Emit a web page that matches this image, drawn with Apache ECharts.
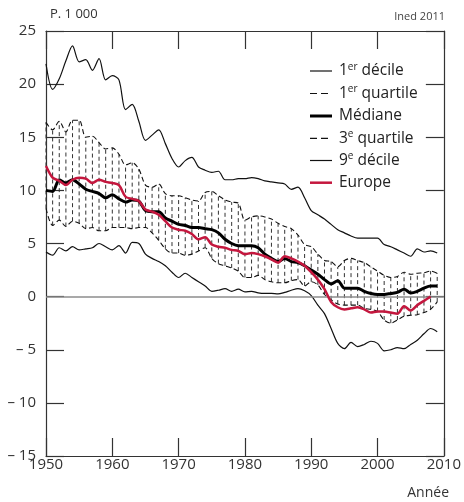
<!DOCTYPE html>
<html>
<head>
<meta charset="utf-8">
<script src="https://cdn.jsdelivr.net/npm/echarts@6/dist/echarts.min.js"></script>
<style>
html,body{margin:0;padding:0;background:#fff;}
#chart{width:464px;height:502px;}
</style>
</head>
<body>
<div id="chart"></div>
<script>
const years = [1950,1951,1952,1953,1954,1955,1956,1957,1958,1959,
               1960,1961,1962,1963,1964,1965,1966,1967,1968,1969,
               1970,1971,1972,1973,1974,1975,1976,1977,1978,1979,
               1980,1981,1982,1983,1984,1985,1986,1987,1988,1989,
               1990,1991,1992,1993,1994,1995,1996,1997,1998,1999,
               2000,2001,2002,2003,2004,2005,2006,2007,2008,2009];

const decile9 = [21.9,19.5,20.5,22.2,23.6,22.1,22.3,21.3,22.4,20.4,
                 20.8,20.4,17.6,18.1,16.5,14.7,15.2,15.7,14.4,13.0,
                 12.2,12.8,13.1,12.2,11.9,11.7,11.8,11.0,11.0,11.1,
                 11.1,11.2,11.1,10.9,10.8,10.7,10.6,10.1,10.3,9.3,
                 8.1,7.7,7.3,6.8,6.3,6.0,5.7,5.5,5.5,5.5,
                 5.5,4.9,4.7,4.4,4.1,3.8,4.5,4.2,4.3,4.1];

const quartile3 = [16.4,15.7,16.5,15.5,16.6,16.6,15.0,15.1,14.5,13.9,
                   14.0,13.4,12.4,12.6,12.0,10.5,10.3,10.6,9.7,9.5,
                   9.5,9.3,9.1,9.0,9.8,9.9,9.5,9.1,8.9,8.8,
                   7.2,7.5,7.6,7.5,7.3,6.9,6.6,6.4,5.8,4.9,
                   4.7,4.0,3.4,3.3,2.8,3.4,3.6,3.4,3.2,2.8,
                   2.4,2.0,1.8,1.9,2.3,2.1,2.2,2.25,2.4,2.2];

const mediane = [10.0,9.9,11.0,10.7,11.0,10.6,10.1,9.9,9.7,9.3,
                 9.6,9.2,8.9,9.1,9.0,8.1,8.0,8.0,7.4,7.1,
                 6.8,6.7,6.5,6.5,6.4,6.3,6.0,5.4,5.0,4.8,
                 4.8,4.8,4.6,4.0,3.6,3.3,3.6,3.3,3.2,2.9,
                 2.5,2.1,1.6,1.2,1.5,0.8,0.8,0.8,0.5,0.3,
                 0.2,0.2,0.3,0.4,0.7,0.35,0.5,0.8,1.0,1.0];

const quartile1 = [8.3,6.7,7.2,6.6,7.1,6.9,6.4,6.5,6.2,6.2,
                   6.5,6.5,6.5,6.4,6.5,6.5,6.0,5.3,4.5,4.1,
                   4.1,3.9,4.0,4.3,4.6,3.6,3.1,2.9,2.7,2.4,
                   1.8,1.8,2.0,1.6,1.4,1.3,1.3,1.5,1.6,1.0,
                   1.4,1.1,0.2,-0.3,-0.7,-0.8,-0.8,-0.8,-1.1,-1.2,
                   -1.4,-2.2,-2.5,-2.2,-1.85,-1.75,-1.7,-1.5,-1.2,-0.5];

const decile1 = [4.2,3.9,4.6,4.3,4.7,4.4,4.5,4.6,5.0,4.7,
                 4.4,4.8,4.1,5.1,5.0,4.0,3.6,3.3,2.9,2.3,
                 1.8,2.2,1.8,1.4,1.0,0.5,0.6,0.75,0.5,0.7,
                 0.45,0.5,0.35,0.3,0.3,0.25,0.4,0.6,0.75,0.55,
                 0.1,-0.8,-1.6,-3.0,-4.4,-4.9,-4.3,-4.7,-4.5,-4.2,
                 -4.4,-5.1,-5.0,-4.8,-4.9,-4.5,-4.1,-3.5,-3.0,-3.3];

const europe = [12.3,11.2,10.9,10.5,11.0,11.2,11.1,10.7,11.0,10.8,
                10.7,10.5,9.4,9.2,9.0,8.2,8.0,7.7,7.1,6.5,
                6.3,6.2,5.9,5.4,5.6,4.9,4.7,4.6,4.4,4.3,
                4.0,4.1,4.0,3.8,3.5,3.2,3.8,3.6,3.3,2.9,
                2.3,1.6,0.7,-0.5,-1.0,-1.2,-1.1,-1.0,-1.2,-1.5,
                -1.4,-1.4,-1.5,-1.6,-0.9,-1.3,-0.8,-0.4,0.0,null];

const legendLabels = ['1{s|er} décile','1{s|er} quartile','Médiane','3{s|e} quartile','9{s|e} décile','Europe'];

const FONT = '"Open Sans", "Noto Sans", sans-serif';
const AX = '#333';
const RED = '#c4173e';

function pairs(arr){ return years.map((y,i)=> [y, arr[i]]); }

const hatchData = years.map((y,i)=> [y, quartile1[i], quartile3[i]]);

const chart = echarts.init(document.getElementById('chart'), null, {renderer:'canvas'});

const baseX = {
  type:'value', min:1950, max:2010, interval:10,
  axisLine:{show:true, onZero:false, lineStyle:{color:AX, width:1.2}},
  axisTick:{show:true, inside:true, length:18, lineStyle:{color:AX, width:1.2}},
  splitLine:{show:false}
};
const baseY = {
  type:'value', min:-15, max:25, interval:5,
  axisLine:{show:true, onZero:false, lineStyle:{color:AX, width:1.2}},
  axisTick:{show:true, inside:true, length:18, lineStyle:{color:AX, width:1.2}},
  splitLine:{show:false}
};

const legendStyles = [
  {stroke:'#111', lineWidth:1.2},
  {stroke:'#111', lineWidth:1.2, lineDash:[7,4]},
  {stroke:'#000', lineWidth:3},
  {stroke:'#111', lineWidth:1.2, lineDash:[7,4]},
  {stroke:'#111', lineWidth:1.2},
  {stroke:RED, lineWidth:2.5}
];
const legendY = [71, 93.5, 116, 138.3, 160.5, 182.7];
const legendGraphics = [];
legendLabels.forEach((t,i)=>{
  legendGraphics.push({type:'line', shape:{x1:310, y1:legendY[i], x2:332, y2:legendY[i]}, style:legendStyles[i]});
  legendGraphics.push({type:'text', x:339, y:legendY[i], style:{
    text:t, fill:'#222', fontSize:15.5, fontFamily:FONT, lineHeight:18,
    align:'left', verticalAlign:'middle',
    rich:{s:{fontSize:10, fontFamily:FONT, fill:'#222', verticalAlign:'top', lineHeight:11}}
  }});
});

const option = {
  animation:false,
  backgroundColor:'#fff',
  grid:{left:46, right:18, top:31, bottom:46, containLabel:false},
  xAxis:[
    Object.assign({}, baseX, {position:'bottom', axisLabel:{show:true, fontSize:15, color:AX, fontFamily:FONT, margin:1,
      formatter:(v)=> String(v)}}),
    Object.assign({}, baseX, {position:'top', axisLabel:{show:false}})
  ],
  yAxis:[
    Object.assign({}, baseY, {position:'left', axisLabel:{show:true, fontSize:15, color:AX, fontFamily:FONT, margin:10,
      formatter:(v)=> v<0 ? '\u2013 ' + Math.abs(v) : String(v)}}),
    Object.assign({}, baseY, {position:'right', axisLabel:{show:false}})
  ],
  graphic:[
    {type:'text', x:50, y:14, style:{text:'P. 1 000', fill:AX, fontSize:13, fontFamily:FONT, align:'left', verticalAlign:'middle'}},
    {type:'text', x:445, y:17, style:{text:'Ined 2011', fill:'#444', fontSize:11, fontFamily:FONT, align:'right', verticalAlign:'middle'}},
    {type:'text', x:449, y:493, style:{text:'Année', fill:AX, fontSize:14, fontFamily:FONT, align:'right', verticalAlign:'middle'}}
  ].concat(legendGraphics),
  series:[
    {
      name:'hatch', type:'custom', xAxisIndex:0, yAxisIndex:0, data:hatchData, silent:true, z:1,
      renderItem:function(params, api){
        const p1 = api.coord([api.value(0), api.value(1)]);
        const p2 = api.coord([api.value(0), api.value(2)]);
        return {type:'line', shape:{x1:p1[0], y1:p1[1], x2:p2[0], y2:p2[1]},
                style:{stroke:'#333', lineWidth:1, lineDash:[4,3], fill:null}};
      },
      markLine:{silent:true, symbol:'none', label:{show:false},
        lineStyle:{color:'#8c8c8c', width:1.6, type:'solid'}, data:[{yAxis:0}]}
    },
    {name:'9e décile', type:'line', data:pairs(decile9), showSymbol:false, smooth:0.3, z:3,
      lineStyle:{color:'#111', width:1.2}},
    {name:'3e quartile', type:'line', data:pairs(quartile3), showSymbol:false, smooth:0.3, z:3,
      lineStyle:{color:'#111', width:1.1, type:[5,3]}},
    {name:'1er quartile', type:'line', data:pairs(quartile1), showSymbol:false, smooth:0.3, z:3,
      lineStyle:{color:'#111', width:1.1, type:[5,3]}},
    {name:'1er décile', type:'line', data:pairs(decile1), showSymbol:false, smooth:0.3, z:3,
      lineStyle:{color:'#111', width:1.2}},
    {name:'Médiane', type:'line', data:pairs(mediane), showSymbol:false, smooth:0.3, z:4,
      lineStyle:{color:'#000', width:3}},
    {name:'Europe', type:'line', data:pairs(europe), showSymbol:false, smooth:0.3, z:5, connectNulls:false,
      lineStyle:{color:RED, width:2.5}}
  ]
};
chart.setOption(option);
</script>
</body>
</html>
